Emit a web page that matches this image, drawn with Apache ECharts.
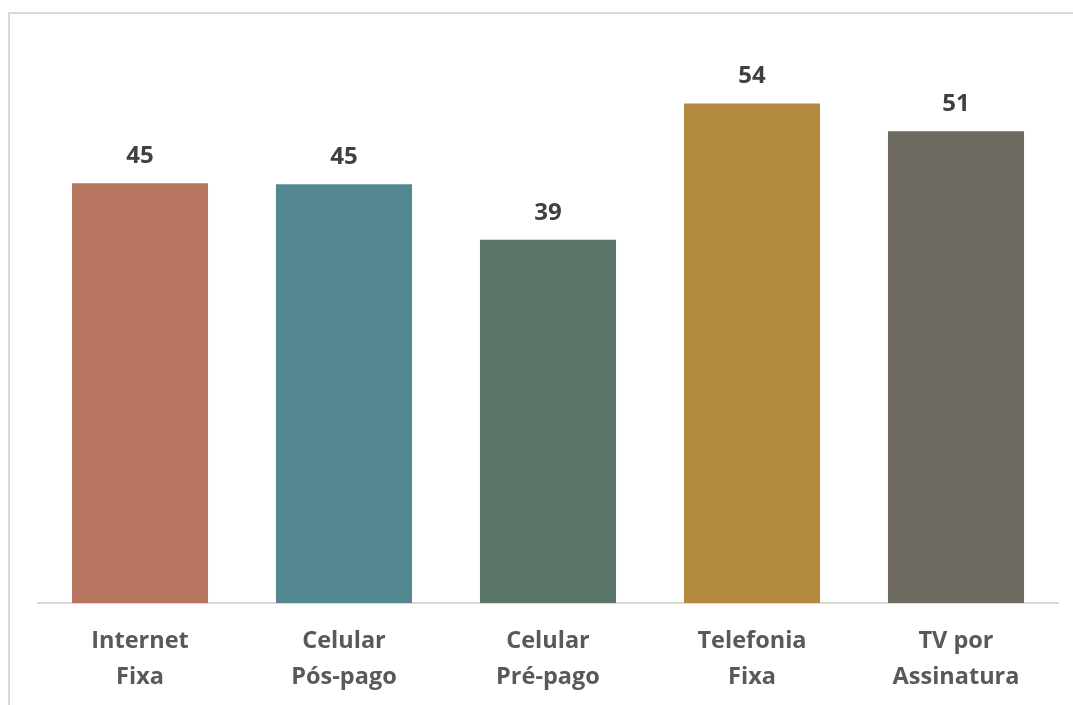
<!DOCTYPE html>
<html><head><meta charset="utf-8">
<script src="https://cdn.jsdelivr.net/npm/echarts@6/dist/echarts.min.js"></script>
<style>html,body{margin:0;padding:0;background:#fff}#c{width:1073px;height:705px}</style>
</head><body><div id="c"></div>
<script>
const categories = ['Internet\nFixa', 'Celular\nPós-pago', 'Celular\nPré-pago', 'Telefonia\nFixa', 'TV por\nAssinatura'];
const values = [45.3, 45.2, 39.2, 53.9, 50.9];
const colors = ['#B87661', '#538892', '#5A7668', '#B3893D', '#6E6A62'];
const chart = echarts.init(document.getElementById('c'));
chart.setOption({
  animation: false,
  graphic: [
    {type: 'rect', shape: {x: 8, y: 12, width: 1065, height: 2}, style: {fill: '#D9D9D9'}},
    {type: 'rect', shape: {x: 8, y: 12, width: 2, height: 693}, style: {fill: '#D9D9D9'}}
  ],
  grid: {left: 38, right: 15, top: 47, bottom: 102},
  xAxis: {
    type: 'category', data: categories,
    axisLine: {lineStyle: {color: '#D9D9D9', width: 2}},
    axisTick: {show: false},
    axisLabel: {color: '#595959', fontFamily: 'Open Sans', fontWeight: 'bold', fontSize: 23.5, lineHeight: 36, margin: 20}
  },
  yAxis: {type: 'value', min: 0, max: 60, show: false, splitLine: {show: false}},
  series: [{
    type: 'bar', barWidth: '66.7%',
    data: values.map((v, i) => ({value: v, itemStyle: {color: colors[i]}})),
    label: {show: true, position: 'top', distance: 15, color: '#404040', fontFamily: 'Open Sans', fontWeight: 'bold', fontSize: 24,
      formatter: p => Math.round(p.value)}
  }]
});
</script></body></html>
